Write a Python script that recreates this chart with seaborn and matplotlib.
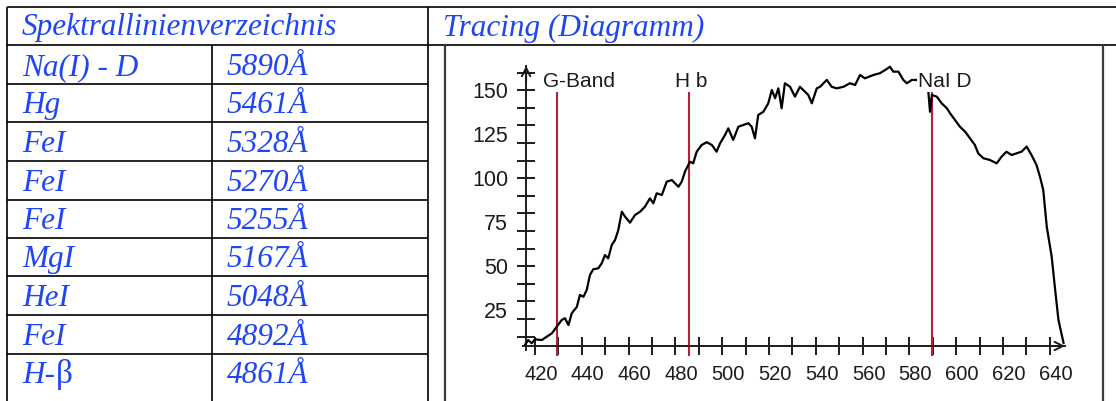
import matplotlib
matplotlib.use("Agg")
import matplotlib.pyplot as plt
import matplotlib.transforms as mtransforms
import pandas as pd
import seaborn as sns

sns.set_theme(style="white")
plt.rcParams['font.family'] = ['Liberation Sans', 'DejaVu Sans']

# ---- spectral line list (left table) ----
header_left = "Spektrallinienverzeichnis"
header_right = "Tracing (Diagramm)"
line_names = ["Na(I) - D", "Hg", "FeI", "FeI", "FeI", "MgI", "HeI", "FeI", "H-β"]
line_waves = ["5890Å", "5461Å", "5328Å", "5270Å", "5255Å", "5167Å", "5048Å", "4892Å", "4861Å"]

# ---- tracing (wavelength in nm, intensity in counts) ----
wavelength = [415.7, 417.1, 418.6, 420.0, 422.9, 425.0, 427.2, 429.3, 431.4, 432.8,
              434.3, 435.7, 437.9, 439.2, 440.7, 442.1, 443.5, 444.9, 447.1, 448.5,
              449.9, 451.3, 452.8, 454.2, 455.6, 457.1, 458.5, 460.6, 462.7, 464.9,
              467.0, 469.1, 470.6, 472.0, 474.2, 476.3, 478.5, 481.3, 482.7, 484.1,
              486.2, 487.6, 489.1, 491.2, 493.4, 495.6, 497.6, 499.1, 501.2, 502.6,
              504.7, 506.9, 509.0, 511.2, 512.6, 514.0, 515.4, 517.6, 519.7, 521.2,
              522.6, 524.0, 525.4, 526.8, 529.0, 531.1, 533.2, 535.4, 536.8, 538.3,
              540.4, 541.8, 544.7, 546.8, 548.9, 551.8, 554.6, 556.8, 558.9, 561.0,
              564.6, 567.4, 569.6, 571.7, 573.1, 575.3, 577.4, 578.9, 581.1, 583.2,
              585.6, 588.1, 588.8, 589.6, 591.7, 593.8, 596.0, 597.4, 599.5, 601.6,
              603.8, 605.9, 608.0, 609.4, 611.6, 614.4, 617.3, 619.4, 621.5, 623.7,
              625.8, 627.9, 630.1, 632.2, 634.3, 635.8, 637.2, 638.7, 640.8, 642.3,
              643.7, 645.9]
intensity = [5.3, 8.1, 6.3, 8.5, 8.1, 10.0, 11.9, 15.7, 19.5, 20.5,
             16.6, 23.3, 27.0, 33.7, 32.7, 36.5, 45.1, 48.3, 48.9, 51.7,
             56.4, 54.5, 62.1, 64.9, 70.6, 81.0, 78.2, 74.8, 79.1, 81.0,
             83.9, 88.6, 85.8, 91.5, 90.5, 98.1, 99.0, 95.2, 98.1, 103.8,
             109.4, 108.5, 115.1, 118.9, 120.5, 118.9, 115.1, 119.9, 124.6, 128.4,
             121.8, 129.3, 130.3, 131.3, 129.3, 122.7, 136.0, 137.8, 142.6, 150.2,
             145.5, 151.1, 139.8, 154.0, 152.0, 146.4, 152.0, 149.2, 147.3, 142.6,
             151.1, 152.0, 155.9, 152.0, 151.1, 152.0, 154.0, 153.0, 158.7, 156.8,
             158.7, 159.7, 161.5, 163.4, 160.6, 160.6, 155.9, 154.0, 155.9, 155.9,
             153.0, 149.2, 137.8, 147.3, 146.4, 142.6, 139.8, 136.9, 133.1, 129.3,
             126.5, 122.7, 118.9, 114.2, 111.4, 110.4, 108.5, 112.3, 115.1, 113.2,
             114.2, 115.1, 118.0, 113.2, 107.6, 100.9, 93.4, 72.5, 55.5, 36.5,
             19.5, 6.3]

marker_names = ["G-Band", "H b", "NaI D"]
marker_waves = [429.5, 486.0, 589.6]

x_labels = list(range(420, 641, 20))
x_minor = list(range(430, 631, 20))
y_labels = [25, 50, 75, 100, 125, 150]
y_minor = list(range(10, 161, 10))

W, H = 1116, 401
BLUE = "#1e46f5"
INK = "#1c1c1c"
RED = "#b5203a"

fig = plt.figure(figsize=(W / 100, H / 100), dpi=100)
fig.patch.set_facecolor("white")

# ---- table layer, pixel coordinates ----
tab = fig.add_axes([0, 0, 1, 1])
tab.set_xlim(0, W)
tab.set_ylim(H, 0)
tab.axis("off")

lw_tab = 1.2
row_lines = [45, 84, 122, 161, 200, 238, 276, 315, 354]
tab.hlines([7, 45], 7, W, color="black", lw=lw_tab)
tab.hlines(row_lines[1:], 7, 428, color="black", lw=lw_tab)
tab.vlines([7, 428], 7, H, color="black", lw=lw_tab)
tab.vlines(212, 45, H, color="black", lw=lw_tab)
# frame of the tracing picture
tab.vlines([445, 1103], 45, H, color="#3a3a3a", lw=1.6)

serif = dict(family="Liberation Serif", style="italic", size=22.5, color=BLUE)
tab.text(22, 35, header_left, va="baseline", ha="left", **serif)
tab.text(443, 36, header_right, va="baseline", ha="left", **serif)

renderer = fig.canvas.get_renderer()
baselines = [b - 9 for b in row_lines[1:]] + [383]
for name, wave, yb in zip(line_names, line_waves, baselines):
    if "β" in name:
        head = name.split("β")[0]
        t = tab.text(22, yb, head, va="baseline", ha="left", **serif)
        bb = t.get_window_extent(renderer)
        tab.text(bb.x1 + 1, yb, "β", va="baseline", ha="left",
                 family="Liberation Serif", style="normal", size=24, color=BLUE)
    else:
        tab.text(22, yb, name, va="baseline", ha="left", **serif)
    tab.text(227, yb, wave, va="baseline", ha="left", **serif)

# ---- tracing chart ----
ax = fig.add_axes([499.9 / W, (H - 371.9) / H, 585.0 / W, 325.6 / H])
ax.patch.set_visible(False)
ax.set_xlim(405, 655)
ax.set_ylim(-10, 175)

df = pd.DataFrame({"wavelength": wavelength, "intensity": intensity})

ax.vlines(marker_waves, -1, 149, color=RED, lw=1.5, zorder=2)
sns.lineplot(data=df, x="wavelength", y="intensity", ax=ax, color="black",
             lw=1.6, estimator=None, sort=False, zorder=3)
for name, w in zip(marker_names, marker_waves):
    ax.text(w - 6, 151.9, name, fontsize=15, color=INK, va="baseline", ha="left",
            zorder=5, bbox=dict(facecolor="white", edgecolor="none", pad=0.5))

x_axis_at = 4.7
y_axis_at = 416.2
for s in ["top", "right"]:
    ax.spines[s].set_visible(False)
ax.spines["left"].set_position(("data", y_axis_at))
ax.spines["bottom"].set_position(("data", x_axis_at))
ax.spines["left"].set_bounds(2.5, 164)
ax.spines["bottom"].set_bounds(415, 646.5)
for s in ["left", "bottom"]:
    ax.spines[s].set_color(INK)
    ax.spines[s].set_linewidth(1.4)

arrow = dict(arrowstyle="->", color=INK, lw=1.4, mutation_scale=15, shrinkA=0, shrinkB=0)
ax.annotate("", xy=(y_axis_at, 164), xytext=(y_axis_at, 155), arrowprops=arrow)
ax.annotate("", xy=(646.5, x_axis_at), xytext=(640, x_axis_at), arrowprops=arrow)

ax.xaxis.remove_overlapping_locs = False
ax.yaxis.remove_overlapping_locs = False
ax.set_xticks(x_labels)
ax.set_xticks(x_minor, minor=True)
ax.set_xticklabels([str(v) for v in x_labels])
ax.set_yticks(y_labels)
ax.set_yticks(y_minor, minor=True)
ax.set_yticklabels([str(v) for v in y_labels])

ax.tick_params(axis="x", which="both", direction="inout", length=13.5, width=1.4,
               color=INK, labelsize=14.5, labelcolor=INK, pad=7, bottom=True)
ax.tick_params(axis="y", which="major", length=0, pad=13, labelsize=15.5,
               labelcolor=INK, left=True)
ax.tick_params(axis="y", which="minor", direction="inout", length=13, width=1.4,
               color=INK, left=True)
offset = mtransforms.ScaledTranslation(6 / 100, 0, fig.dpi_scale_trans)
for lbl in ax.get_xticklabels():
    lbl.set_transform(lbl.get_transform() + offset)
ax.set_xlabel("")
ax.set_ylabel("")
ax.grid(False)

fig.savefig("out.png", dpi=100, facecolor="white")
